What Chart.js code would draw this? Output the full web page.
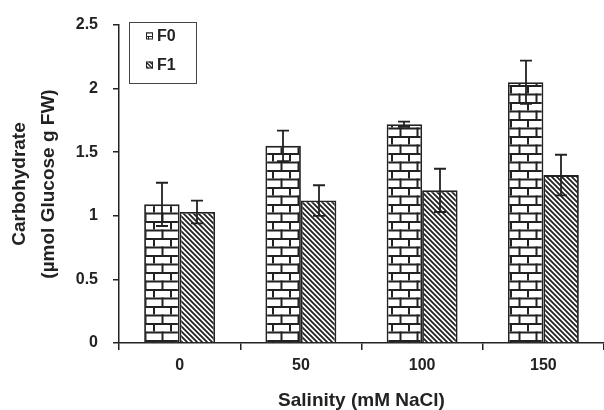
<!DOCTYPE html>
<html>
<head>
<meta charset="utf-8">
<script src="https://cdn.jsdelivr.net/npm/chart.js@4.4.1/dist/chart.umd.min.js"></script>
<style>
  html,body{margin:0;padding:0;background:#fff}
  #wrap{width:604px;height:410px}
</style>
</head>
<body>
<div id="wrap"><canvas id="chart" width="604" height="410"></canvas></div>
<script>
/* carbohydrate vs salinity, F0 / F1 */
const categories=['0','50','100','150'];
const seriesNames=['F0','F1'];
const f0Values=[1.09,1.55,1.72,2.05];
const f1Values=[1.03,1.12,1.20,1.32];
const f0Errors=[0.17,0.12,0.02,0.17];
const f1Errors=[0.09,0.12,0.17,0.16];
const yTickLabels=['0','0.5','1','1.5','2','2.5'];

const INK='#222';
const FONT='"Liberation Sans", Arial, sans-serif';

/* ── fill patterns ── */
function brickPattern(w,h,lw){
  const c=document.createElement('canvas');c.width=w;c.height=h;
  const g=c.getContext('2d');
  g.fillStyle='#fff';g.fillRect(0,0,w,h);
  g.fillStyle=INK;
  g.fillRect(0,0,w,lw);g.fillRect(0,h/2,w,lw);
  g.fillRect(0,0,lw,h/2);g.fillRect(w/2,h/2,lw,h/2);
  return g.createPattern(c,'repeat');
}
function stripePattern(s,lw){
  const c=document.createElement('canvas');c.width=s;c.height=s;
  const g=c.getContext('2d');
  g.fillStyle='#fff';g.fillRect(0,0,s,s);
  g.strokeStyle=INK;g.lineWidth=lw;
  g.beginPath();
  for(let k=-1;k<=1;k++){g.moveTo(k*s-1,-1);g.lineTo(k*s+s+1,s+1);}
  g.stroke();
  return g.createPattern(c,'repeat');
}
const barFills=[brickPattern(17,17,2),stripePattern(5,1.8)];
const legendFills=[brickPattern(8,8,1),stripePattern(4,1.4)];

/* ── error bars ── */
const errorBars={id:'errorBars',afterDatasetsDraw(chart){
  const {ctx}=chart,y=chart.scales.y;
  ctx.save();ctx.strokeStyle=INK;ctx.lineWidth=1.8;
  chart.data.datasets.forEach((ds,i)=>{
    chart.getDatasetMeta(i).data.forEach((bar,j)=>{
      const v=ds.data[j],e=ds.errors[j];
      const yt=y.getPixelForValue(v+e),yb=y.getPixelForValue(v-e);
      const x=Math.round(bar.x);
      ctx.beginPath();
      ctx.moveTo(x,yt);ctx.lineTo(x,yb);
      ctx.moveTo(x-6,yt);ctx.lineTo(x+6,yt);
      ctx.moveTo(x-6,yb);ctx.lineTo(x+6,yb);
      ctx.stroke();
    });
  });
  ctx.restore();
}};

/* ── boxed legend, top-left inside plot ── */
const boxLegend={id:'boxLegend',afterDraw(chart){
  const {ctx}=chart;
  ctx.save();
  ctx.strokeStyle='#444';ctx.lineWidth=1;
  ctx.strokeRect(129.5,22.5,67,61);
  ctx.font='bold 16px '+FONT;ctx.fillStyle=INK;ctx.textBaseline='middle';
  chart.data.datasets.forEach((ds,i)=>{
    const cy=36+i*29;
    ctx.fillStyle=legendFills[i];ctx.fillRect(146,cy-3.5,7,7);
    ctx.strokeStyle=INK;ctx.strokeRect(146.5,cy-3,6,6);
    ctx.fillStyle=INK;ctx.fillText(ds.label,157,cy+1);
  });
  ctx.restore();
}};

new Chart(document.getElementById('chart'),{
  type:'bar',
  data:{
    labels:categories,
    datasets:[
      {label:seriesNames[0],data:f0Values,errors:f0Errors,backgroundColor:barFills[0],borderColor:INK,borderWidth:1.8},
      {label:seriesNames[1],data:f1Values,errors:f1Errors,backgroundColor:barFills[1],borderColor:INK,borderWidth:1.8}
    ]
  },
  options:{
    responsive:false,animation:false,devicePixelRatio:1,
    layout:{padding:{top:25,right:0,bottom:0,left:0}},
    datasets:{bar:{categoryPercentage:0.585,barPercentage:1}},
    plugins:{legend:{display:false},tooltip:{enabled:false}},
    scales:{
      x:{
        grid:{drawOnChartArea:false,tickLength:7,color:INK,lineWidth:1.5},
        border:{color:INK,width:1.5},
        ticks:{color:INK,font:{family:FONT,size:16,weight:'bold'},padding:6},
        title:{display:true,text:'Salinity (mM NaCl)',color:INK,font:{family:FONT,size:19,weight:'bold',lineHeight:1},padding:{top:0,bottom:0}},
        afterFit:s=>{s.height=67;}
      },
      y:{
        min:0,max:2.5,
        grid:{drawOnChartArea:false,tickLength:6,color:INK,lineWidth:1.5},
        border:{color:INK,width:1.5},
        ticks:{stepSize:0.5,color:INK,font:{family:FONT,size:16,weight:'bold'},padding:15,
          callback:(v,i)=>yTickLabels[i]},
        title:{display:true,text:['Carbohydrate','(µmol Glucose g FW)'],color:INK,
          font:{family:FONT,size:19,weight:'bold',lineHeight:1.5},padding:{top:6,bottom:0}},
        afterFit:s=>{s.width=119;}
      }
    }
  },
  plugins:[errorBars,boxLegend]
});
</script>
</body>
</html>
